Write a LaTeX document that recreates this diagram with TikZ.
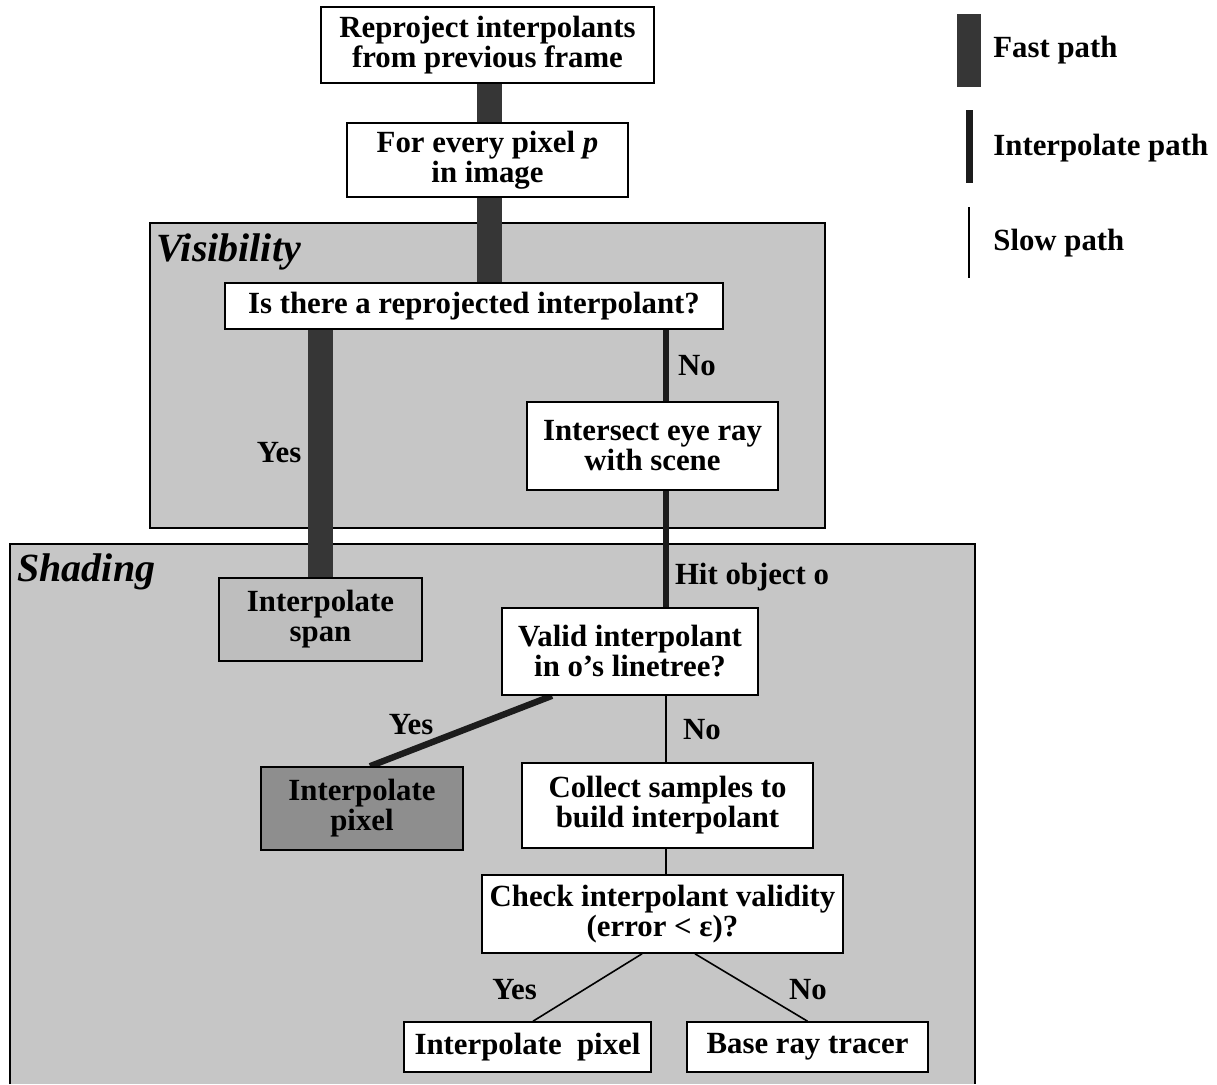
\documentclass[tikz,border=0pt]{standalone}
\usepackage{fontspec}
\setmainfont{Liberation Serif}
\usetikzlibrary{calc}
\pgfdeclarelayer{bg}
\pgfsetlayers{bg,main}
\definecolor{regiongray}{HTML}{C6C6C6}
\definecolor{spangray}{HTML}{BEBEBE}
\definecolor{pixgray}{HTML}{8E8E8E}
\definecolor{fastcol}{HTML}{363636}
\definecolor{interpcol}{HTML}{1C1C1C}
\tikzset{
  txt/.style={font=\fontsize{15.4}{15}\selectfont\bfseries, align=center},
  box/.style={txt, draw=black, line width=0.8pt, fill=white, inner sep=0pt},
  lbl/.style={txt, inner sep=0pt},
  region/.style={fill=regiongray, draw=black, line width=1pt},
  regiontitle/.style={font=\fontsize{20}{20}\selectfont\bfseries\itshape, inner sep=0pt, anchor=west},
  fastpath/.style={draw=fastcol, line width=12.5pt},
  interppath/.style={draw=interpcol, line width=3.2pt},
  slowpath/.style={draw=black, line width=0.8pt},
}
\begin{document}
\begin{tikzpicture}[x=0.5pt,y=-0.5pt]
\useasboundingbox (0,0) rectangle (1217,1084);
% nodes
\node[box, minimum width=166.5pt, minimum height=38pt] (reproj) at (487.5,45) {Reproject interpolants\\from previous frame};
\node[box, minimum width=140.5pt, minimum height=37pt] (every) at (487.5,160) {For every pixel \textit{p}\\in image};
\node[box, minimum width=249pt, minimum height=23pt] (isthere) at (474,306) {Is there a reprojected interpolant?};
\node[box, minimum width=125.5pt, minimum height=44pt] (intersect) at (652.5,446) {Intersect eye ray\\with scene};
\node[box, fill=spangray, minimum width=101.5pt, minimum height=41.5pt] (span) at (320.5,619.5) {Interpolate\\span};
\node[box, minimum width=128pt, minimum height=43.5pt] (valid) at (630,651.5) {Valid interpolant\\in o’s linetree?};
\node[box, fill=pixgray, minimum width=101pt, minimum height=41.5pt] (pix) at (362,808.5) {Interpolate\\pixel};
\node[box, minimum width=145.5pt, minimum height=42.5pt] (collect) at (667.5,805.5) {Collect samples to\\build interpolant};
\node[box, minimum width=180.5pt, minimum height=39pt] (check) at (662.5,914) {Check interpolant validity\\(error < ε)?};
\node[box, minimum width=123.5pt, minimum height=25pt] (ipix) at (527.5,1047) {Interpolate\ \ pixel};
\node[box, minimum width=120.5pt, minimum height=25pt] (brt) at (807.5,1047) {Base ray tracer};
% labels
\node[lbl] (yes1) at (279,453) {Yes};
\node[lbl] (no1) at (697,366) {No};
\node[lbl] (hit) at (752,577) {Hit object o};
\node[lbl] (yes2) at (411,725) {Yes};
\node[lbl] (no2) at (702,730) {No};
\node[lbl] (yes3) at (514.5,990) {Yes};
\node[lbl] (no3) at (808,990) {No};
\node[regiontitle] (vistitle) at (156,252) {Visibility};
\node[regiontitle] (shadetitle) at (17,572) {Shading};
% legend
\fill[fastcol] (957,14) rectangle (981,87);
\fill[interpcol] (966,110) rectangle (973,183);
\draw[slowpath] (969,207) -- (969,278);
\node[lbl, anchor=west] (lfast) at (993,50) {Fast path};
\node[lbl, anchor=west] (linterp) at (993,148) {Interpolate path};
\node[lbl, anchor=west] (lslow) at (993,243) {Slow path};
\begin{pgfonlayer}{bg}
  \draw[region] (150,223) rectangle (825,528);
  \fill[regiongray] (10,544) rectangle (975,1084);
  \draw[black, line width=1pt] (10,1084) -- (10,544) -- (975,544) -- (975,1084);
  % fast path
  \coordinate (fx) at (489,0);
  \draw[fastpath] (fx |- reproj.south) -- (fx |- every.north);
  \draw[fastpath] (fx |- every.south) -- (fx |- isthere.north);
  \draw[fastpath] (span.north |- isthere.south) -- (span.north);
  % interpolate path
  \coordinate (nx) at (666,0);
  \draw[interppath] (nx |- isthere.south) -- (nx |- intersect.north);
  \draw[interppath] (nx |- intersect.south) -- (nx |- valid.north);
  \draw[interppath] ($(valid.south)+(-78,0)$) -- ($(pix.north)+(8,0)$);
  % slow path
  \draw[slowpath] (nx |- valid.south) -- (nx |- collect.north);
  \draw[slowpath] (nx |- collect.south) -- (nx |- check.north);
  \draw[slowpath] ($(check.south)+(-20.5,0)$) -- ($(ipix.north)+(5.5,0)$);
  \draw[slowpath] ($(check.south)+(32.5,0)$) -- (brt.north);
\end{pgfonlayer}
\end{tikzpicture}
\end{document}
